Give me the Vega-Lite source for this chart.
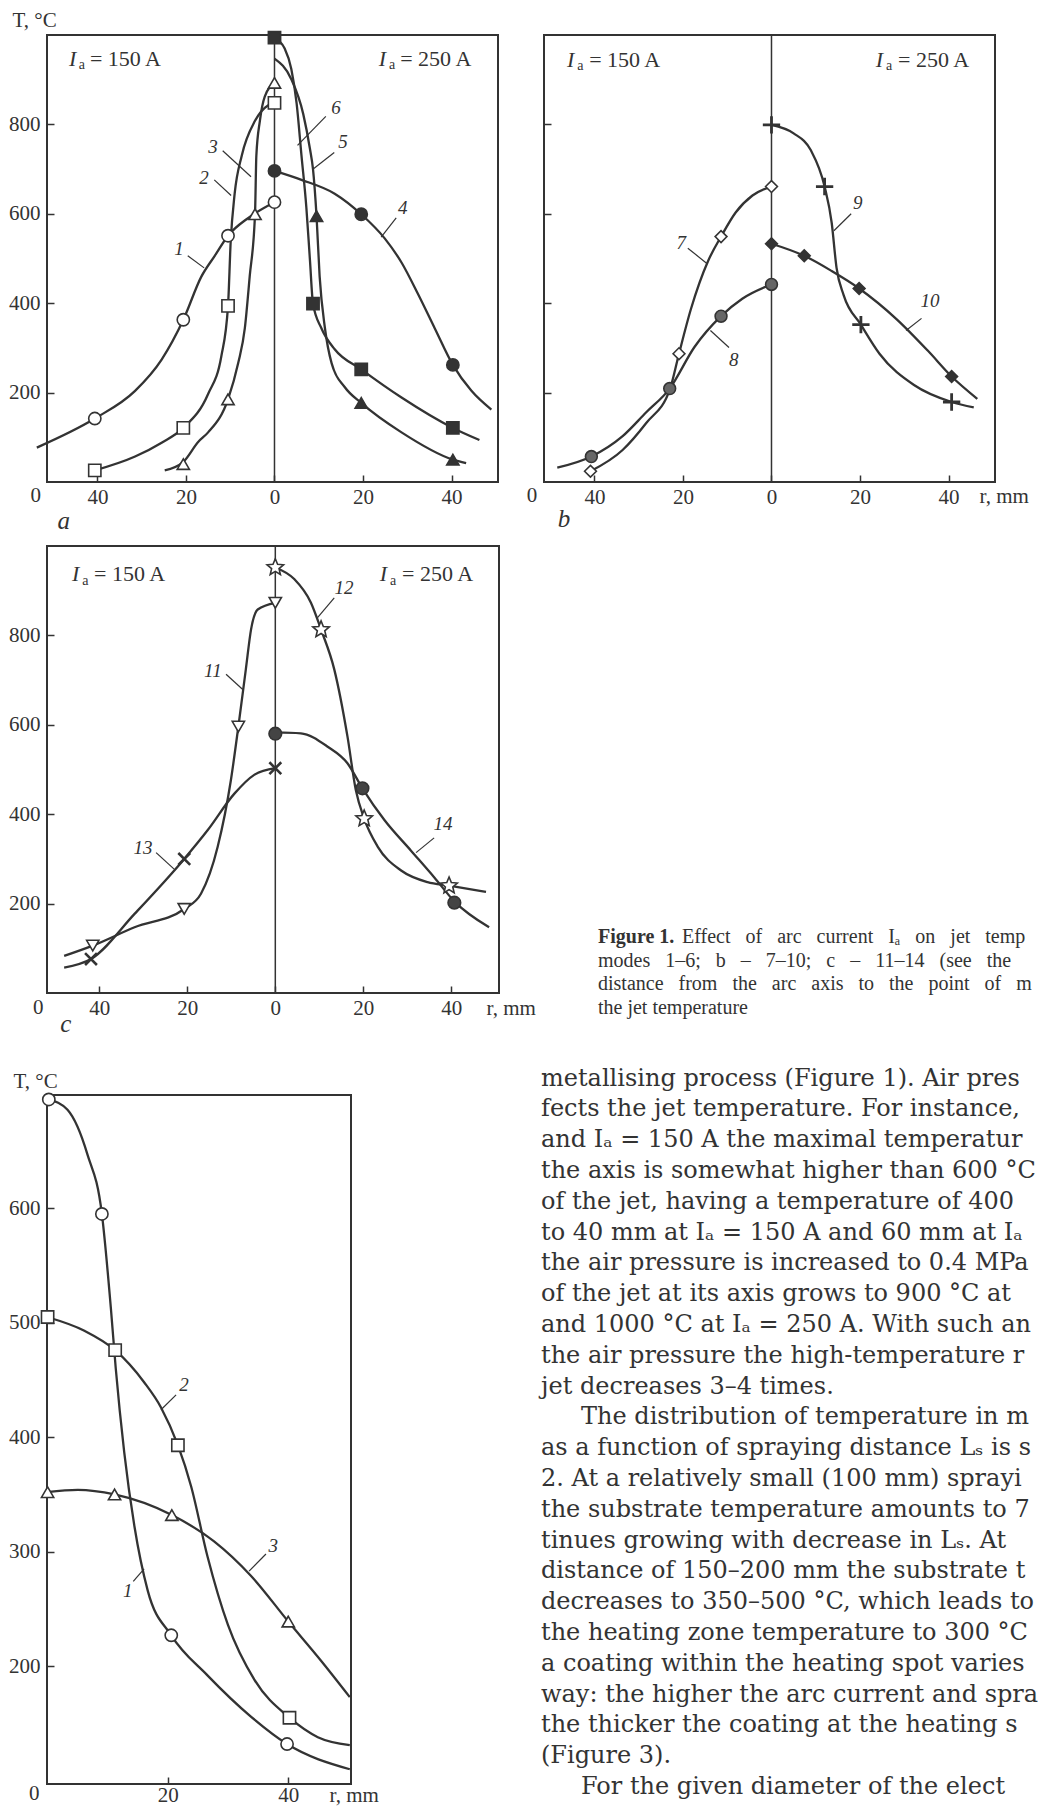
{
"$schema": "https://vega.github.io/schema/vega-lite/v6.json",
"background": "white",
"padding": {"left": 7, "top": 8, "right": 0, "bottom": 0},
"config": {
 "view": {"stroke": "#333", "strokeWidth": 2},
 "axis": {"domain": false, "grid": false, "tickSize": -7, "tickWidth": 1.5, "tickColor": "#333", "labelFont": "Liberation Serif", "labelFontSize": 21, "labelColor": "#333", "labelPadding": 14, "labelFlush": false, "labelOverlap": false, "titleFont": "Liberation Serif", "titleFontSize": 21, "titleFontWeight": "normal", "titleColor": "#333", "titleAngle": 0, "titleAlign": "left", "titleBaseline": "middle"},
 "axisX": {"labelPadding": 11.5}
},
"resolve": {"scale": {"shape": "independent", "fill": "independent"}},
"datasets": {
 "cv": [
  {"p":"a","s":"1","r":-53.7,"t":77},{"p":"a","s":"1","r":-40.6,"t":142},{"p":"a","s":"1","r":-31.5,"t":204},{"p":"a","s":"1","r":-25.5,"t":274},{"p":"a","s":"1","r":-20.6,"t":363},{"p":"a","s":"1","r":-16.5,"t":460},{"p":"a","s":"1","r":-13.5,"t":506},{"p":"a","s":"1","r":-10.5,"t":551},{"p":"a","s":"1","r":-5.9,"t":591},{"p":"a","s":"1","r":0,"t":626},
  {"p":"a","s":"2","r":-40.6,"t":26},{"p":"a","s":"2","r":-31.5,"t":57},{"p":"a","s":"2","r":-25.5,"t":88},{"p":"a","s":"2","r":-20.6,"t":121},{"p":"a","s":"2","r":-15,"t":197},{"p":"a","s":"2","r":-12,"t":282},{"p":"a","s":"2","r":-10.5,"t":394},{"p":"a","s":"2","r":-9.9,"t":537},{"p":"a","s":"2","r":-9,"t":645},{"p":"a","s":"2","r":-7.4,"t":730},{"p":"a","s":"2","r":-4.4,"t":808},{"p":"a","s":"2","r":-1.4,"t":843},{"p":"a","s":"2","r":0,"t":848},
  {"p":"a","s":"3","r":-24.8,"t":26},{"p":"a","s":"3","r":-20.6,"t":45},{"p":"a","s":"3","r":-17.2,"t":90},{"p":"a","s":"3","r":-15,"t":111},{"p":"a","s":"3","r":-10.5,"t":185},{"p":"a","s":"3","r":-8.2,"t":266},{"p":"a","s":"3","r":-6.7,"t":344},{"p":"a","s":"3","r":-5.6,"t":460},{"p":"a","s":"3","r":-4.4,"t":599},{"p":"a","s":"3","r":-4.1,"t":730},{"p":"a","s":"3","r":-3.3,"t":808},{"p":"a","s":"3","r":-2.2,"t":862},{"p":"a","s":"3","r":0,"t":893},
  {"p":"a","s":"4","r":0,"t":696},{"p":"a","s":"4","r":6.1,"t":676},{"p":"a","s":"4","r":13.6,"t":645},{"p":"a","s":"4","r":19.6,"t":599},{"p":"a","s":"4","r":24.9,"t":545},{"p":"a","s":"4","r":28.7,"t":491},{"p":"a","s":"4","r":32.4,"t":421},{"p":"a","s":"4","r":36.2,"t":344},{"p":"a","s":"4","r":40.3,"t":262},{"p":"a","s":"4","r":44.5,"t":204},{"p":"a","s":"4","r":49,"t":162},
  {"p":"a","s":"5","r":0,"t":947},{"p":"a","s":"5","r":3.8,"t":901},{"p":"a","s":"5","r":6.5,"t":823},{"p":"a","s":"5","r":8,"t":746},{"p":"a","s":"5","r":8.7,"t":700},{"p":"a","s":"5","r":9.5,"t":595},{"p":"a","s":"5","r":10.2,"t":460},{"p":"a","s":"5","r":11.4,"t":344},{"p":"a","s":"5","r":12.9,"t":266},{"p":"a","s":"5","r":15.9,"t":212},{"p":"a","s":"5","r":19.6,"t":177},{"p":"a","s":"5","r":28.7,"t":111},{"p":"a","s":"5","r":40.3,"t":50},{"p":"a","s":"5","r":43.3,"t":42},
  {"p":"a","s":"6","r":0,"t":994},{"p":"a","s":"6","r":2.3,"t":970},{"p":"a","s":"6","r":3.8,"t":924},{"p":"a","s":"6","r":5,"t":847},{"p":"a","s":"6","r":6.1,"t":730},{"p":"a","s":"6","r":7.2,"t":614},{"p":"a","s":"6","r":8,"t":498},{"p":"a","s":"6","r":8.7,"t":399},{"p":"a","s":"6","r":10.6,"t":344},{"p":"a","s":"6","r":13.6,"t":297},{"p":"a","s":"6","r":19.6,"t":252},{"p":"a","s":"6","r":28.7,"t":189},{"p":"a","s":"6","r":40.3,"t":121},{"p":"a","s":"6","r":46.3,"t":94},
  {"p":"b","s":"7","r":-40.9,"t":24},{"p":"b","s":"7","r":-33.7,"t":71},{"p":"b","s":"7","r":-28.3,"t":132},{"p":"b","s":"7","r":-22.9,"t":209},{"p":"b","s":"7","r":-20.9,"t":287},{"p":"b","s":"7","r":-18.2,"t":387},{"p":"b","s":"7","r":-14.3,"t":495},{"p":"b","s":"7","r":-11.4,"t":549},{"p":"b","s":"7","r":-8.1,"t":603},{"p":"b","s":"7","r":-4.3,"t":641},{"p":"b","s":"7","r":0,"t":661},
  {"p":"b","s":"8","r":-48.4,"t":32},{"p":"b","s":"8","r":-40.7,"t":57},{"p":"b","s":"8","r":-33.7,"t":102},{"p":"b","s":"8","r":-28.3,"t":156},{"p":"b","s":"8","r":-23,"t":209},{"p":"b","s":"8","r":-17.4,"t":302},{"p":"b","s":"8","r":-11.4,"t":371},{"p":"b","s":"8","r":-6.6,"t":410},{"p":"b","s":"8","r":0,"t":442},
  {"p":"b","s":"9","r":0,"t":799},{"p":"b","s":"9","r":5,"t":780},{"p":"b","s":"9","r":8.9,"t":742},{"p":"b","s":"9","r":12,"t":661},{"p":"b","s":"9","r":13.6,"t":580},{"p":"b","s":"9","r":14.7,"t":479},{"p":"b","s":"9","r":16.3,"t":418},{"p":"b","s":"9","r":20.2,"t":352},{"p":"b","s":"9","r":24.4,"t":287},{"p":"b","s":"9","r":32.2,"t":217},{"p":"b","s":"9","r":40.7,"t":179},{"p":"b","s":"9","r":45.7,"t":167},
  {"p":"b","s":"10","r":0,"t":533},{"p":"b","s":"10","r":7.4,"t":506},{"p":"b","s":"10","r":13.6,"t":472},{"p":"b","s":"10","r":19.8,"t":433},{"p":"b","s":"10","r":28.3,"t":364},{"p":"b","s":"10","r":35.3,"t":294},{"p":"b","s":"10","r":40.7,"t":236},{"p":"b","s":"10","r":46.5,"t":186},
  {"p":"c","s":"11","r":-48,"t":83},{"p":"c","s":"11","r":-41.5,"t":106},{"p":"c","s":"11","r":-32,"t":147},{"p":"c","s":"11","r":-20.7,"t":188},{"p":"c","s":"11","r":-16.9,"t":222},{"p":"c","s":"11","r":-13.1,"t":327},{"p":"c","s":"11","r":-10.1,"t":476},{"p":"c","s":"11","r":-8.4,"t":596},{"p":"c","s":"11","r":-6.7,"t":724},{"p":"c","s":"11","r":-5.5,"t":814},{"p":"c","s":"11","r":-4,"t":858},{"p":"c","s":"11","r":0,"t":873},
  {"p":"c","s":"13","r":-48,"t":57},{"p":"c","s":"13","r":-41.9,"t":76},{"p":"c","s":"13","r":-32,"t":177},{"p":"c","s":"13","r":-20.7,"t":300},{"p":"c","s":"13","r":-15.4,"t":364},{"p":"c","s":"13","r":-9.3,"t":446},{"p":"c","s":"13","r":-4.8,"t":488},{"p":"c","s":"13","r":0,"t":503},
  {"p":"c","s":"12","r":0,"t":952},{"p":"c","s":"12","r":4.3,"t":926},{"p":"c","s":"12","r":8.1,"t":873},{"p":"c","s":"12","r":10.4,"t":813},{"p":"c","s":"12","r":13.4,"t":724},{"p":"c","s":"12","r":16.4,"t":574},{"p":"c","s":"12","r":18.3,"t":454},{"p":"c","s":"12","r":20.2,"t":390},{"p":"c","s":"12","r":23.3,"t":327},{"p":"c","s":"12","r":28.6,"t":274},{"p":"c","s":"12","r":34.6,"t":248},{"p":"c","s":"12","r":39.5,"t":240},{"p":"c","s":"12","r":47.9,"t":226},
  {"p":"c","s":"14","r":0,"t":583},{"p":"c","s":"14","r":5.8,"t":581},{"p":"c","s":"14","r":11.9,"t":551},{"p":"c","s":"14","r":16.4,"t":514},{"p":"c","s":"14","r":19.8,"t":458},{"p":"c","s":"14","r":24.8,"t":387},{"p":"c","s":"14","r":30.8,"t":319},{"p":"c","s":"14","r":36.1,"t":259},{"p":"c","s":"14","r":40.7,"t":205},{"p":"c","s":"14","r":48.6,"t":147},
  {"p":"f","s":"1","r":0.3,"t":695},{"p":"f","s":"1","r":3.4,"t":686},{"p":"f","s":"1","r":6.7,"t":647},{"p":"f","s":"1","r":9.1,"t":595},{"p":"f","s":"1","r":10.6,"t":512},{"p":"f","s":"1","r":11.4,"t":460},{"p":"f","s":"1","r":12.8,"t":387},{"p":"f","s":"1","r":14.5,"t":322},{"p":"f","s":"1","r":16.7,"t":266},{"p":"f","s":"1","r":20.6,"t":227},{"p":"f","s":"1","r":26.6,"t":192},{"p":"f","s":"1","r":33.8,"t":156},{"p":"f","s":"1","r":39.8,"t":132},{"p":"f","s":"1","r":50.2,"t":110},
  {"p":"f","s":"2","r":0,"t":505},{"p":"f","s":"2","r":6.2,"t":493},{"p":"f","s":"2","r":11.3,"t":476},{"p":"f","s":"2","r":16.1,"t":448},{"p":"f","s":"2","r":18.9,"t":426},{"p":"f","s":"2","r":21.7,"t":393},{"p":"f","s":"2","r":23.9,"t":357},{"p":"f","s":"2","r":26.6,"t":296},{"p":"f","s":"2","r":30,"t":236},{"p":"f","s":"2","r":34.4,"t":188},{"p":"f","s":"2","r":40.2,"t":155},{"p":"f","s":"2","r":44.9,"t":138},{"p":"f","s":"2","r":50.2,"t":131},
  {"p":"f","s":"3","r":0,"t":352},{"p":"f","s":"3","r":5.1,"t":354},{"p":"f","s":"3","r":11.2,"t":350},{"p":"f","s":"3","r":20.7,"t":332},{"p":"f","s":"3","r":27.7,"t":309},{"p":"f","s":"3","r":33.8,"t":279},{"p":"f","s":"3","r":40,"t":239},{"p":"f","s":"3","r":45.4,"t":205},{"p":"f","s":"3","r":50.2,"t":173}
 ],
 "pt": [
  {"p":"a","s":"1","r":-40.6,"t":142},{"p":"a","s":"1","r":-20.6,"t":363},{"p":"a","s":"1","r":-10.5,"t":551},{"p":"a","s":"1","r":0,"t":626},
  {"p":"a","s":"2","r":-40.6,"t":26},{"p":"a","s":"2","r":-20.6,"t":121},{"p":"a","s":"2","r":-10.5,"t":394},{"p":"a","s":"2","r":0,"t":848},
  {"p":"a","s":"3","r":-20.6,"t":40},{"p":"a","s":"3","r":-10.5,"t":185},{"p":"a","s":"3","r":-4.4,"t":599},{"p":"a","s":"3","r":0,"t":893},
  {"p":"a","s":"4","r":0,"t":696},{"p":"a","s":"4","r":19.6,"t":599},{"p":"a","s":"4","r":40.3,"t":262},
  {"p":"a","s":"5","r":9.5,"t":595},{"p":"a","s":"5","r":19.6,"t":177},{"p":"a","s":"5","r":40.3,"t":50},
  {"p":"a","s":"6","r":0,"t":994},{"p":"a","s":"6","r":8.7,"t":399},{"p":"a","s":"6","r":19.6,"t":252},{"p":"a","s":"6","r":40.3,"t":121},
  {"p":"b","s":"7","r":-40.9,"t":24},{"p":"b","s":"7","r":-20.9,"t":287},{"p":"b","s":"7","r":-11.4,"t":549},{"p":"b","s":"7","r":0,"t":661},
  {"p":"b","s":"8","r":-40.7,"t":57},{"p":"b","s":"8","r":-23,"t":209},{"p":"b","s":"8","r":-11.4,"t":371},{"p":"b","s":"8","r":0,"t":442},
  {"p":"b","s":"9","r":0,"t":799},{"p":"b","s":"9","r":12,"t":661},{"p":"b","s":"9","r":20.2,"t":352},{"p":"b","s":"9","r":40.7,"t":179},
  {"p":"b","s":"10","r":0,"t":533},{"p":"b","s":"10","r":7.4,"t":506},{"p":"b","s":"10","r":19.8,"t":433},{"p":"b","s":"10","r":40.7,"t":236},
  {"p":"c","s":"11","r":-41.5,"t":106},{"p":"c","s":"11","r":-20.7,"t":188},{"p":"c","s":"11","r":-8.4,"t":596},{"p":"c","s":"11","r":0,"t":873},
  {"p":"c","s":"12","r":0,"t":952},{"p":"c","s":"12","r":10.4,"t":813},{"p":"c","s":"12","r":20.2,"t":390},{"p":"c","s":"12","r":39.5,"t":240},
  {"p":"c","s":"13","r":-41.9,"t":76},{"p":"c","s":"13","r":-20.7,"t":300},{"p":"c","s":"13","r":0,"t":503},
  {"p":"c","s":"14","r":0,"t":580},{"p":"c","s":"14","r":19.8,"t":458},{"p":"c","s":"14","r":40.7,"t":202},
  {"p":"f","s":"1","r":0.3,"t":695},{"p":"f","s":"1","r":9.1,"t":595},{"p":"f","s":"1","r":20.6,"t":227},{"p":"f","s":"1","r":39.8,"t":132},
  {"p":"f","s":"2","r":0.1,"t":505},{"p":"f","s":"2","r":11.3,"t":476},{"p":"f","s":"2","r":21.7,"t":393},{"p":"f","s":"2","r":40.2,"t":155},
  {"p":"f","s":"3","r":0.1,"t":352},{"p":"f","s":"3","r":11.2,"t":350},{"p":"f","s":"3","r":20.7,"t":332},{"p":"f","s":"3","r":40,"t":239}
 ],
 "ld": [
  {"p":"a","r":-19.6,"t":506,"r2":-15.9,"t2":479},{"p":"a","r":-13.6,"t":676,"r2":-9.8,"t2":641},{"p":"a","r":-11.7,"t":741,"r2":-5.3,"t2":683},{"p":"a","r":27.5,"t":591,"r2":24.1,"t2":548},{"p":"a","r":13.5,"t":737,"r2":8.6,"t2":699},{"p":"a","r":11.6,"t":818,"r2":5.2,"t2":753},
  {"p":"b","r":-18.9,"t":523,"r2":-14.6,"t2":489},{"p":"b","r":-9.6,"t":301,"r2":-13.8,"t2":339},{"p":"b","r":18,"t":600,"r2":14.1,"t2":562},{"p":"b","r":33.9,"t":366,"r2":30.4,"t2":339},
  {"p":"c","r":-11.2,"t":713,"r2":-7.4,"t2":679},{"p":"c","r":13.4,"t":884,"r2":9.6,"t2":840},{"p":"c","r":-27.1,"t":314,"r2":-23,"t2":277},{"p":"c","r":36.1,"t":347,"r2":32,"t2":314},
  {"p":"f","r":14.3,"t":274,"r2":16.1,"t2":285},{"p":"f","r":21.4,"t":437,"r2":18.9,"t2":424},{"p":"f","r":36.3,"t":298,"r2":33.5,"t2":283}
 ],
 "it": [
  {"p":"a","k":"I","text":"I","r":-45.6,"t":947},{"p":"a","k":"I","text":"I","r":24.4,"t":947},
  {"p":"a","k":"num","text":"1","r":-21.6,"t":521},{"p":"a","k":"num","text":"2","r":-15.9,"t":680},{"p":"a","k":"num","text":"3","r":-13.9,"t":749},{"p":"a","k":"num","text":"4","r":29.0,"t":613},{"p":"a","k":"num","text":"5","r":15.5,"t":761},{"p":"a","k":"num","text":"6","r":13.9,"t":837},
  {"p":"a","k":"let","text":"a","r":-47.6,"t":-87},
  {"p":"b","k":"I","text":"I","r":-45.4,"t":944},{"p":"b","k":"I","text":"I","r":24.4,"t":944},
  {"p":"b","k":"num","text":"7","r":-20.4,"t":535},{"p":"b","k":"num","text":"8","r":-8.5,"t":273},{"p":"b","k":"num","text":"9","r":19.5,"t":624},{"p":"b","k":"num","text":"10","r":35.8,"t":405},
  {"p":"b","k":"let","text":"b","r":-46.9,"t":-83},
  {"p":"c","k":"I","text":"I","r":-45.4,"t":937},{"p":"c","k":"I","text":"I","r":24.6,"t":937},
  {"p":"c","k":"num","text":"11","r":-14.2,"t":720},{"p":"c","k":"num","text":"12","r":15.6,"t":906},{"p":"c","k":"num","text":"13","r":-30.1,"t":324},{"p":"c","k":"num","text":"14","r":38.1,"t":378},
  {"p":"c","k":"let","text":"c","r":-47.6,"t":-69},
  {"p":"f","k":"num","text":"1","r":13.4,"t":266},{"p":"f","k":"num","text":"2","r":22.7,"t":446},{"p":"f","k":"num","text":"3","r":37.5,"t":305}
 ],
 "rm": [
  {"p":"a","k":"sub","text":"a","r":-44.2,"t":933},{"p":"a","k":"main","text":"= 150 A","r":-41.7,"t":947},{"p":"a","k":"sub","text":"a","r":25.9,"t":933},{"p":"a","k":"main","text":"= 250 A","r":28.4,"t":947},{"p":"a","k":"zero","text":"0","r":-55.1,"t":-32.4},
  {"p":"b","k":"sub","text":"a","r":-43.9,"t":930},{"p":"b","k":"main","text":"= 150 A","r":-41.2,"t":944},{"p":"b","k":"sub","text":"a","r":25.9,"t":930},{"p":"b","k":"main","text":"= 250 A","r":28.6,"t":944},{"p":"b","k":"zero","text":"0","r":-55.3,"t":-32.4},
  {"p":"c","k":"sub","text":"a","r":-43.9,"t":922},{"p":"c","k":"main","text":"= 150 A","r":-41.2,"t":937},{"p":"c","k":"sub","text":"a","r":26.1,"t":922},{"p":"c","k":"main","text":"= 250 A","r":28.8,"t":937},{"p":"c","k":"zero","text":"0","r":-55.1,"t":-33.6},
  {"p":"f","k":"zero","text":"0","r":-3.0,"t":88}
 ],
 "cap": [
  {"line":0,"i":0,"b":1,"text":"Figure 1."},
  {"line":0,"i":1,"b":0,"text":"Effect\u00a0\u00a0\u00a0of\u00a0\u00a0\u00a0arc\u00a0\u00a0\u00a0current\u00a0\u00a0\u00a0I\u2090\u00a0\u00a0\u00a0on\u00a0\u00a0\u00a0jet\u00a0\u00a0\u00a0temper"},
  {"line":1,"i":0,"b":0,"text":"modes\u00a0\u00a0\u00a01\u20136;\u00a0\u00a0\u00a0b\u00a0\u00a0\u00a0\u2013\u00a0\u00a0\u00a07\u201310;\u00a0\u00a0\u00a0c\u00a0\u00a0\u00a0\u2013\u00a0\u00a0\u00a011\u201314\u00a0\u00a0\u00a0(see\u00a0\u00a0\u00a0the"},
  {"line":2,"i":0,"b":0,"text":"distance\u00a0\u00a0\u00a0from\u00a0\u00a0\u00a0the\u00a0\u00a0\u00a0arc\u00a0\u00a0\u00a0axis\u00a0\u00a0\u00a0to\u00a0\u00a0\u00a0the\u00a0\u00a0\u00a0point\u00a0\u00a0\u00a0of\u00a0\u00a0\u00a0me"},
  {"line":3,"i":0,"b":0,"text":"the jet temperature"}
 ],
 "body": [
  {"line":0,"i":0,"text":"metallising process (Figure 1). Air pressu"},
  {"line":1,"i":0,"text":"fects the jet temperature. For instance, at P"},
  {"line":2,"i":0,"text":"and I\u2090 = 150 A the maximal temperature o"},
  {"line":3,"i":0,"text":"the axis is somewhat higher than 600 °C"},
  {"line":4,"i":0,"text":"of the jet, having a temperature of 400 °C,"},
  {"line":5,"i":0,"text":"to 40 mm at I\u2090 = 150 A and 60 mm at I\u2090 ="},
  {"line":6,"i":0,"text":"the air pressure is increased to 0.4 MPa, t"},
  {"line":7,"i":0,"text":"of the jet at its axis grows to 900 °C at"},
  {"line":8,"i":0,"text":"and 1000 °C at I\u2090 = 250 A. With such an"},
  {"line":9,"i":0,"text":"the air pressure the high-temperature reg"},
  {"line":10,"i":0,"text":"jet decreases 3\u20134 times."},
  {"line":11,"i":1,"text":"The distribution of temperature in meta"},
  {"line":12,"i":0,"text":"as a function of spraying distance L\u209b is show"},
  {"line":13,"i":0,"text":"2. At a relatively small (100 mm) sprayi"},
  {"line":14,"i":0,"text":"the substrate temperature amounts to 700 °"},
  {"line":15,"i":0,"text":"tinues growing with decrease in L\u209b. At"},
  {"line":16,"i":0,"text":"distance of 150\u2013200 mm the substrate t"},
  {"line":17,"i":0,"text":"decreases to 350\u2013500 °C, which leads to"},
  {"line":18,"i":0,"text":"the heating zone temperature to 300 °C. T"},
  {"line":19,"i":0,"text":"a coating within the heating spot varies i"},
  {"line":20,"i":0,"text":"way: the higher the arc current and spra"},
  {"line":21,"i":0,"text":"the thicker the coating at the heating s"},
  {"line":22,"i":0,"text":"(Figure 3)."},
  {"line":23,"i":1,"text":"For the given diameter of the elect"}
 ]
},
"columns": 2,
"spacing": {"row": 64, "column": 45},
"bounds": "flush",
"concat": [
 {
  "width": 451, "height": 447,
  "layer": [
   {"data": {"values": [{}]}, "mark": {"type": "rule", "stroke": "#333", "strokeWidth": 1.5},
    "encoding": {"x": {"datum": 0, "type": "quantitative", "scale": {"domain": [-51.4, 50.5], "nice": false, "zero": false}, "axis": {"values": [-40, -20, 0, 20, 40], "labelExpr": "abs(datum.value)", "title": null}}}},
   {"data": {"name": "cv"}, "transform": [{"filter": "datum.p === 'a'"}],
    "mark": {"type": "line", "interpolate": "monotone", "stroke": "#333", "strokeWidth": 2.3},
    "encoding": {
     "x": {"field": "r", "type": "quantitative", "scale": {"domain": [-51.4, 50.5], "nice": false, "zero": false}, "axis": {"values": [-40, -20, 0, 20, 40], "labelExpr": "abs(datum.value)", "title": null}},
     "y": {"field": "t", "type": "quantitative", "scale": {"domain": [0, 1000], "nice": false, "zero": false}, "axis": {"values": [200, 400, 600, 800], "title": "T, °C", "titleX": -35, "titleY": -15}},
     "detail": {"field": "s", "type": "nominal"}}},
   {"data": {"name": "ld"}, "transform": [{"filter": "datum.p === 'a'"}],
    "mark": {"type": "rule", "stroke": "#333", "strokeWidth": 1.2},
    "encoding": {"x": {"field": "r", "type": "quantitative", "scale": {"domain": [-51.4, 50.5], "nice": false, "zero": false}, "axis": {"values": [-40, -20, 0, 20, 40], "labelExpr": "abs(datum.value)", "title": null}}, "y": {"field": "t", "type": "quantitative", "scale": {"domain": [0, 1000], "nice": false, "zero": false}, "axis": {"values": [200, 400, 600, 800], "title": "T, °C", "titleX": -35, "titleY": -15}}, "x2": {"field": "r2"}, "y2": {"field": "t2"}}},
   {"data": {"name": "pt"}, "transform": [{"filter": "datum.p === 'a'"}],
    "mark": {"type": "point", "filled": true, "opacity": 1, "stroke": "#333", "strokeWidth": 1.6, "size": 150},
    "encoding": {"x": {"field": "r", "type": "quantitative", "scale": {"domain": [-51.4, 50.5], "nice": false, "zero": false}, "axis": {"values": [-40, -20, 0, 20, 40], "labelExpr": "abs(datum.value)", "title": null}}, "y": {"field": "t", "type": "quantitative", "scale": {"domain": [0, 1000], "nice": false, "zero": false}, "axis": {"values": [200, 400, 600, 800], "title": "T, °C", "titleX": -35, "titleY": -15}},
     "shape": {"field": "s", "type": "nominal", "scale": {"domain": ["1","2","3","4","5","6"], "range": ["circle","square","triangle-up","circle","triangle-up","square"]}, "legend": null},
     "fill": {"field": "s", "type": "nominal", "scale": {"domain": ["1","2","3","4","5","6"], "range": ["white","white","white","#333","#333","#333"]}, "legend": null}}},
   {"data": {"name": "it"}, "transform": [{"filter": "datum.p === 'a' && datum.k === 'num'"}],
    "mark": {"type": "text", "font": "Liberation Serif", "fontStyle": "italic", "fontSize": 19, "color": "#333", "align": "center", "baseline": "middle"},
    "encoding": {"x": {"field": "r", "type": "quantitative", "scale": {"domain": [-51.4, 50.5], "nice": false, "zero": false}, "axis": {"values": [-40, -20, 0, 20, 40], "labelExpr": "abs(datum.value)", "title": null}}, "y": {"field": "t", "type": "quantitative", "scale": {"domain": [0, 1000], "nice": false, "zero": false}, "axis": {"values": [200, 400, 600, 800], "title": "T, °C", "titleX": -35, "titleY": -15}}, "text": {"field": "text", "type": "nominal"}}},
   {"data": {"name": "it"}, "transform": [{"filter": "datum.p === 'a' && datum.k === 'I'"}],
    "mark": {"type": "text", "font": "Liberation Serif", "fontStyle": "italic", "fontSize": 22, "color": "#333", "align": "center", "baseline": "middle"},
    "encoding": {"x": {"field": "r", "type": "quantitative", "scale": {"domain": [-51.4, 50.5], "nice": false, "zero": false}, "axis": {"values": [-40, -20, 0, 20, 40], "labelExpr": "abs(datum.value)", "title": null}}, "y": {"field": "t", "type": "quantitative", "scale": {"domain": [0, 1000], "nice": false, "zero": false}, "axis": {"values": [200, 400, 600, 800], "title": "T, °C", "titleX": -35, "titleY": -15}}, "text": {"field": "text", "type": "nominal"}}},
   {"data": {"name": "it"}, "transform": [{"filter": "datum.p === 'a' && datum.k === 'let'"}],
    "mark": {"type": "text", "font": "Liberation Serif", "fontStyle": "italic", "fontSize": 25, "color": "#333", "align": "center", "baseline": "middle"},
    "encoding": {"x": {"field": "r", "type": "quantitative", "scale": {"domain": [-51.4, 50.5], "nice": false, "zero": false}, "axis": {"values": [-40, -20, 0, 20, 40], "labelExpr": "abs(datum.value)", "title": null}}, "y": {"field": "t", "type": "quantitative", "scale": {"domain": [0, 1000], "nice": false, "zero": false}, "axis": {"values": [200, 400, 600, 800], "title": "T, °C", "titleX": -35, "titleY": -15}}, "text": {"field": "text", "type": "nominal"}}},
   {"data": {"name": "rm"}, "transform": [{"filter": "datum.p === 'a' && datum.k === 'main'"}],
    "mark": {"type": "text", "font": "Liberation Serif", "fontSize": 22, "color": "#333", "align": "left", "baseline": "middle"},
    "encoding": {"x": {"field": "r", "type": "quantitative", "scale": {"domain": [-51.4, 50.5], "nice": false, "zero": false}, "axis": {"values": [-40, -20, 0, 20, 40], "labelExpr": "abs(datum.value)", "title": null}}, "y": {"field": "t", "type": "quantitative", "scale": {"domain": [0, 1000], "nice": false, "zero": false}, "axis": {"values": [200, 400, 600, 800], "title": "T, °C", "titleX": -35, "titleY": -15}}, "text": {"field": "text", "type": "nominal"}}},
   {"data": {"name": "rm"}, "transform": [{"filter": "datum.p === 'a' && datum.k === 'sub'"}],
    "mark": {"type": "text", "font": "Liberation Serif", "fontSize": 14, "color": "#333", "align": "left", "baseline": "middle"},
    "encoding": {"x": {"field": "r", "type": "quantitative", "scale": {"domain": [-51.4, 50.5], "nice": false, "zero": false}, "axis": {"values": [-40, -20, 0, 20, 40], "labelExpr": "abs(datum.value)", "title": null}}, "y": {"field": "t", "type": "quantitative", "scale": {"domain": [0, 1000], "nice": false, "zero": false}, "axis": {"values": [200, 400, 600, 800], "title": "T, °C", "titleX": -35, "titleY": -15}}, "text": {"field": "text", "type": "nominal"}}},
   {"data": {"name": "rm"}, "transform": [{"filter": "datum.p === 'a' && datum.k === 'zero'"}],
    "mark": {"type": "text", "font": "Liberation Serif", "fontSize": 21, "color": "#333", "align": "left", "baseline": "middle"},
    "encoding": {"x": {"field": "r", "type": "quantitative", "scale": {"domain": [-51.4, 50.5], "nice": false, "zero": false}, "axis": {"values": [-40, -20, 0, 20, 40], "labelExpr": "abs(datum.value)", "title": null}}, "y": {"field": "t", "type": "quantitative", "scale": {"domain": [0, 1000], "nice": false, "zero": false}, "axis": {"values": [200, 400, 600, 800], "title": "T, °C", "titleX": -35, "titleY": -15}}, "text": {"field": "text", "type": "nominal"}}}
  ]
 },
 {
  "width": 451, "height": 447,
  "layer": [
   {"data": {"values": [{}]}, "mark": {"type": "rule", "stroke": "#333", "strokeWidth": 1.5},
    "encoding": {"x": {"datum": 0, "type": "quantitative", "scale": {"domain": [-51.4, 50.5], "nice": false, "zero": false}, "axis": {"values": [-40, -20, 0, 20, 40], "labelExpr": "abs(datum.value)", "title": "r, mm", "titleX": 435, "titleY": 14}}}},
   {"data": {"name": "cv"}, "transform": [{"filter": "datum.p === 'b'"}],
    "mark": {"type": "line", "interpolate": "monotone", "stroke": "#333", "strokeWidth": 2.3},
    "encoding": {
     "x": {"field": "r", "type": "quantitative", "scale": {"domain": [-51.4, 50.5], "nice": false, "zero": false}, "axis": {"values": [-40, -20, 0, 20, 40], "labelExpr": "abs(datum.value)", "title": "r, mm", "titleX": 435, "titleY": 14}},
     "y": {"field": "t", "type": "quantitative", "scale": {"domain": [0, 1000], "nice": false, "zero": false}, "axis": {"values": [200, 400, 600, 800], "labels": false, "title": null}},
     "detail": {"field": "s", "type": "nominal"}}},
   {"data": {"name": "ld"}, "transform": [{"filter": "datum.p === 'b'"}],
    "mark": {"type": "rule", "stroke": "#333", "strokeWidth": 1.2},
    "encoding": {"x": {"field": "r", "type": "quantitative", "scale": {"domain": [-51.4, 50.5], "nice": false, "zero": false}, "axis": {"values": [-40, -20, 0, 20, 40], "labelExpr": "abs(datum.value)", "title": "r, mm", "titleX": 435, "titleY": 14}}, "y": {"field": "t", "type": "quantitative", "scale": {"domain": [0, 1000], "nice": false, "zero": false}, "axis": {"values": [200, 400, 600, 800], "labels": false, "title": null}}, "x2": {"field": "r2"}, "y2": {"field": "t2"}}},
   {"data": {"name": "pt"}, "transform": [{"filter": "datum.p === 'b' && datum.s !== '9'"}],
    "mark": {"type": "point", "filled": true, "opacity": 1, "stroke": "#333", "strokeWidth": 1.6, "size": 140},
    "encoding": {"x": {"field": "r", "type": "quantitative", "scale": {"domain": [-51.4, 50.5], "nice": false, "zero": false}, "axis": {"values": [-40, -20, 0, 20, 40], "labelExpr": "abs(datum.value)", "title": "r, mm", "titleX": 435, "titleY": 14}}, "y": {"field": "t", "type": "quantitative", "scale": {"domain": [0, 1000], "nice": false, "zero": false}, "axis": {"values": [200, 400, 600, 800], "labels": false, "title": null}},
     "shape": {"field": "s", "type": "nominal", "scale": {"domain": ["7","8","10"], "range": ["diamond","circle","diamond"]}, "legend": null},
     "fill": {"field": "s", "type": "nominal", "scale": {"domain": ["7","8","10"], "range": ["white","#666","#333"]}, "legend": null}}},
   {"data": {"name": "pt"}, "transform": [{"filter": "datum.p === 'b' && datum.s === '9'"}],
    "mark": {"type": "point", "shape": "M-1,0L1,0M0,-1L0,1", "filled": false, "opacity": 1, "stroke": "#333", "strokeWidth": 2.8, "size": 300},
    "encoding": {"x": {"field": "r", "type": "quantitative", "scale": {"domain": [-51.4, 50.5], "nice": false, "zero": false}, "axis": {"values": [-40, -20, 0, 20, 40], "labelExpr": "abs(datum.value)", "title": "r, mm", "titleX": 435, "titleY": 14}}, "y": {"field": "t", "type": "quantitative", "scale": {"domain": [0, 1000], "nice": false, "zero": false}, "axis": {"values": [200, 400, 600, 800], "labels": false, "title": null}}}},
   {"data": {"name": "it"}, "transform": [{"filter": "datum.p === 'b' && datum.k === 'num'"}],
    "mark": {"type": "text", "font": "Liberation Serif", "fontStyle": "italic", "fontSize": 19, "color": "#333", "align": "center", "baseline": "middle"},
    "encoding": {"x": {"field": "r", "type": "quantitative", "scale": {"domain": [-51.4, 50.5], "nice": false, "zero": false}, "axis": {"values": [-40, -20, 0, 20, 40], "labelExpr": "abs(datum.value)", "title": "r, mm", "titleX": 435, "titleY": 14}}, "y": {"field": "t", "type": "quantitative", "scale": {"domain": [0, 1000], "nice": false, "zero": false}, "axis": {"values": [200, 400, 600, 800], "labels": false, "title": null}}, "text": {"field": "text", "type": "nominal"}}},
   {"data": {"name": "it"}, "transform": [{"filter": "datum.p === 'b' && datum.k === 'I'"}],
    "mark": {"type": "text", "font": "Liberation Serif", "fontStyle": "italic", "fontSize": 22, "color": "#333", "align": "center", "baseline": "middle"},
    "encoding": {"x": {"field": "r", "type": "quantitative", "scale": {"domain": [-51.4, 50.5], "nice": false, "zero": false}, "axis": {"values": [-40, -20, 0, 20, 40], "labelExpr": "abs(datum.value)", "title": "r, mm", "titleX": 435, "titleY": 14}}, "y": {"field": "t", "type": "quantitative", "scale": {"domain": [0, 1000], "nice": false, "zero": false}, "axis": {"values": [200, 400, 600, 800], "labels": false, "title": null}}, "text": {"field": "text", "type": "nominal"}}},
   {"data": {"name": "it"}, "transform": [{"filter": "datum.p === 'b' && datum.k === 'let'"}],
    "mark": {"type": "text", "font": "Liberation Serif", "fontStyle": "italic", "fontSize": 25, "color": "#333", "align": "center", "baseline": "middle"},
    "encoding": {"x": {"field": "r", "type": "quantitative", "scale": {"domain": [-51.4, 50.5], "nice": false, "zero": false}, "axis": {"values": [-40, -20, 0, 20, 40], "labelExpr": "abs(datum.value)", "title": "r, mm", "titleX": 435, "titleY": 14}}, "y": {"field": "t", "type": "quantitative", "scale": {"domain": [0, 1000], "nice": false, "zero": false}, "axis": {"values": [200, 400, 600, 800], "labels": false, "title": null}}, "text": {"field": "text", "type": "nominal"}}},
   {"data": {"name": "rm"}, "transform": [{"filter": "datum.p === 'b' && datum.k === 'main'"}],
    "mark": {"type": "text", "font": "Liberation Serif", "fontSize": 22, "color": "#333", "align": "left", "baseline": "middle"},
    "encoding": {"x": {"field": "r", "type": "quantitative", "scale": {"domain": [-51.4, 50.5], "nice": false, "zero": false}, "axis": {"values": [-40, -20, 0, 20, 40], "labelExpr": "abs(datum.value)", "title": "r, mm", "titleX": 435, "titleY": 14}}, "y": {"field": "t", "type": "quantitative", "scale": {"domain": [0, 1000], "nice": false, "zero": false}, "axis": {"values": [200, 400, 600, 800], "labels": false, "title": null}}, "text": {"field": "text", "type": "nominal"}}},
   {"data": {"name": "rm"}, "transform": [{"filter": "datum.p === 'b' && datum.k === 'sub'"}],
    "mark": {"type": "text", "font": "Liberation Serif", "fontSize": 14, "color": "#333", "align": "left", "baseline": "middle"},
    "encoding": {"x": {"field": "r", "type": "quantitative", "scale": {"domain": [-51.4, 50.5], "nice": false, "zero": false}, "axis": {"values": [-40, -20, 0, 20, 40], "labelExpr": "abs(datum.value)", "title": "r, mm", "titleX": 435, "titleY": 14}}, "y": {"field": "t", "type": "quantitative", "scale": {"domain": [0, 1000], "nice": false, "zero": false}, "axis": {"values": [200, 400, 600, 800], "labels": false, "title": null}}, "text": {"field": "text", "type": "nominal"}}},
   {"data": {"name": "rm"}, "transform": [{"filter": "datum.p === 'b' && datum.k === 'zero'"}],
    "mark": {"type": "text", "font": "Liberation Serif", "fontSize": 21, "color": "#333", "align": "left", "baseline": "middle"},
    "encoding": {"x": {"field": "r", "type": "quantitative", "scale": {"domain": [-51.4, 50.5], "nice": false, "zero": false}, "axis": {"values": [-40, -20, 0, 20, 40], "labelExpr": "abs(datum.value)", "title": "r, mm", "titleX": 435, "titleY": 14}}, "y": {"field": "t", "type": "quantitative", "scale": {"domain": [0, 1000], "nice": false, "zero": false}, "axis": {"values": [200, 400, 600, 800], "labels": false, "title": null}}, "text": {"field": "text", "type": "nominal"}}}
  ]
 },
 {
  "width": 452, "height": 447,
  "layer": [
   {"data": {"values": [{}]}, "mark": {"type": "rule", "stroke": "#333", "strokeWidth": 1.5},
    "encoding": {"x": {"datum": 0, "type": "quantitative", "scale": {"domain": [-51.9, 50.85], "nice": false, "zero": false}, "axis": {"values": [-40, -20, 0, 20, 40], "labelExpr": "abs(datum.value)", "title": "r, mm", "titleX": 439, "titleY": 15}}}},
   {"data": {"name": "cv"}, "transform": [{"filter": "datum.p === 'c'"}],
    "mark": {"type": "line", "interpolate": "monotone", "stroke": "#333", "strokeWidth": 2.3},
    "encoding": {
     "x": {"field": "r", "type": "quantitative", "scale": {"domain": [-51.9, 50.85], "nice": false, "zero": false}, "axis": {"values": [-40, -20, 0, 20, 40], "labelExpr": "abs(datum.value)", "title": "r, mm", "titleX": 439, "titleY": 15}},
     "y": {"field": "t", "type": "quantitative", "scale": {"domain": [0, 1000], "nice": false, "zero": false}, "axis": {"values": [200, 400, 600, 800], "title": null}},
     "detail": {"field": "s", "type": "nominal"}}},
   {"data": {"name": "ld"}, "transform": [{"filter": "datum.p === 'c'"}],
    "mark": {"type": "rule", "stroke": "#333", "strokeWidth": 1.2},
    "encoding": {"x": {"field": "r", "type": "quantitative", "scale": {"domain": [-51.9, 50.85], "nice": false, "zero": false}, "axis": {"values": [-40, -20, 0, 20, 40], "labelExpr": "abs(datum.value)", "title": "r, mm", "titleX": 439, "titleY": 15}}, "y": {"field": "t", "type": "quantitative", "scale": {"domain": [0, 1000], "nice": false, "zero": false}, "axis": {"values": [200, 400, 600, 800], "title": null}}, "x2": {"field": "r2"}, "y2": {"field": "t2"}}},
   {"data": {"name": "pt"}, "transform": [{"filter": "datum.p === 'c' && datum.s === '11'"}],
    "mark": {"type": "point", "shape": "triangle-down", "filled": true, "fill": "white", "opacity": 1, "stroke": "#333", "strokeWidth": 1.6, "size": 150},
    "encoding": {"x": {"field": "r", "type": "quantitative", "scale": {"domain": [-51.9, 50.85], "nice": false, "zero": false}, "axis": {"values": [-40, -20, 0, 20, 40], "labelExpr": "abs(datum.value)", "title": "r, mm", "titleX": 439, "titleY": 15}}, "y": {"field": "t", "type": "quantitative", "scale": {"domain": [0, 1000], "nice": false, "zero": false}, "axis": {"values": [200, 400, 600, 800], "title": null}}}},
   {"data": {"name": "pt"}, "transform": [{"filter": "datum.p === 'c' && datum.s === '14'"}],
    "mark": {"type": "point", "shape": "circle", "filled": true, "fill": "#444", "opacity": 1, "stroke": "#333", "strokeWidth": 1.6, "size": 160},
    "encoding": {"x": {"field": "r", "type": "quantitative", "scale": {"domain": [-51.9, 50.85], "nice": false, "zero": false}, "axis": {"values": [-40, -20, 0, 20, 40], "labelExpr": "abs(datum.value)", "title": "r, mm", "titleX": 439, "titleY": 15}}, "y": {"field": "t", "type": "quantitative", "scale": {"domain": [0, 1000], "nice": false, "zero": false}, "axis": {"values": [200, 400, 600, 800], "title": null}}}},
   {"data": {"name": "pt"}, "transform": [{"filter": "datum.p === 'c' && datum.s === '12'"}],
    "mark": {"type": "point", "shape": "M0,-1L0.265,-0.364L0.951,-0.309L0.428,0.139L0.588,0.809L0,0.45L-0.588,0.809L-0.428,0.139L-0.951,-0.309L-0.265,-0.364Z", "filled": true, "fill": "white", "opacity": 1, "stroke": "#333", "strokeWidth": 1.6, "size": 300},
    "encoding": {"x": {"field": "r", "type": "quantitative", "scale": {"domain": [-51.9, 50.85], "nice": false, "zero": false}, "axis": {"values": [-40, -20, 0, 20, 40], "labelExpr": "abs(datum.value)", "title": "r, mm", "titleX": 439, "titleY": 15}}, "y": {"field": "t", "type": "quantitative", "scale": {"domain": [0, 1000], "nice": false, "zero": false}, "axis": {"values": [200, 400, 600, 800], "title": null}}}},
   {"data": {"name": "pt"}, "transform": [{"filter": "datum.p === 'c' && datum.s === '13'"}],
    "mark": {"type": "point", "shape": "M-0.8,-0.8L0.8,0.8M-0.8,0.8L0.8,-0.8", "filled": false, "opacity": 1, "stroke": "#333", "strokeWidth": 2.6, "size": 220},
    "encoding": {"x": {"field": "r", "type": "quantitative", "scale": {"domain": [-51.9, 50.85], "nice": false, "zero": false}, "axis": {"values": [-40, -20, 0, 20, 40], "labelExpr": "abs(datum.value)", "title": "r, mm", "titleX": 439, "titleY": 15}}, "y": {"field": "t", "type": "quantitative", "scale": {"domain": [0, 1000], "nice": false, "zero": false}, "axis": {"values": [200, 400, 600, 800], "title": null}}}},
   {"data": {"name": "it"}, "transform": [{"filter": "datum.p === 'c' && datum.k === 'num'"}],
    "mark": {"type": "text", "font": "Liberation Serif", "fontStyle": "italic", "fontSize": 19, "color": "#333", "align": "center", "baseline": "middle"},
    "encoding": {"x": {"field": "r", "type": "quantitative", "scale": {"domain": [-51.9, 50.85], "nice": false, "zero": false}, "axis": {"values": [-40, -20, 0, 20, 40], "labelExpr": "abs(datum.value)", "title": "r, mm", "titleX": 439, "titleY": 15}}, "y": {"field": "t", "type": "quantitative", "scale": {"domain": [0, 1000], "nice": false, "zero": false}, "axis": {"values": [200, 400, 600, 800], "title": null}}, "text": {"field": "text", "type": "nominal"}}},
   {"data": {"name": "it"}, "transform": [{"filter": "datum.p === 'c' && datum.k === 'I'"}],
    "mark": {"type": "text", "font": "Liberation Serif", "fontStyle": "italic", "fontSize": 22, "color": "#333", "align": "center", "baseline": "middle"},
    "encoding": {"x": {"field": "r", "type": "quantitative", "scale": {"domain": [-51.9, 50.85], "nice": false, "zero": false}, "axis": {"values": [-40, -20, 0, 20, 40], "labelExpr": "abs(datum.value)", "title": "r, mm", "titleX": 439, "titleY": 15}}, "y": {"field": "t", "type": "quantitative", "scale": {"domain": [0, 1000], "nice": false, "zero": false}, "axis": {"values": [200, 400, 600, 800], "title": null}}, "text": {"field": "text", "type": "nominal"}}},
   {"data": {"name": "it"}, "transform": [{"filter": "datum.p === 'c' && datum.k === 'let'"}],
    "mark": {"type": "text", "font": "Liberation Serif", "fontStyle": "italic", "fontSize": 25, "color": "#333", "align": "center", "baseline": "middle"},
    "encoding": {"x": {"field": "r", "type": "quantitative", "scale": {"domain": [-51.9, 50.85], "nice": false, "zero": false}, "axis": {"values": [-40, -20, 0, 20, 40], "labelExpr": "abs(datum.value)", "title": "r, mm", "titleX": 439, "titleY": 15}}, "y": {"field": "t", "type": "quantitative", "scale": {"domain": [0, 1000], "nice": false, "zero": false}, "axis": {"values": [200, 400, 600, 800], "title": null}}, "text": {"field": "text", "type": "nominal"}}},
   {"data": {"name": "rm"}, "transform": [{"filter": "datum.p === 'c' && datum.k === 'main'"}],
    "mark": {"type": "text", "font": "Liberation Serif", "fontSize": 22, "color": "#333", "align": "left", "baseline": "middle"},
    "encoding": {"x": {"field": "r", "type": "quantitative", "scale": {"domain": [-51.9, 50.85], "nice": false, "zero": false}, "axis": {"values": [-40, -20, 0, 20, 40], "labelExpr": "abs(datum.value)", "title": "r, mm", "titleX": 439, "titleY": 15}}, "y": {"field": "t", "type": "quantitative", "scale": {"domain": [0, 1000], "nice": false, "zero": false}, "axis": {"values": [200, 400, 600, 800], "title": null}}, "text": {"field": "text", "type": "nominal"}}},
   {"data": {"name": "rm"}, "transform": [{"filter": "datum.p === 'c' && datum.k === 'sub'"}],
    "mark": {"type": "text", "font": "Liberation Serif", "fontSize": 14, "color": "#333", "align": "left", "baseline": "middle"},
    "encoding": {"x": {"field": "r", "type": "quantitative", "scale": {"domain": [-51.9, 50.85], "nice": false, "zero": false}, "axis": {"values": [-40, -20, 0, 20, 40], "labelExpr": "abs(datum.value)", "title": "r, mm", "titleX": 439, "titleY": 15}}, "y": {"field": "t", "type": "quantitative", "scale": {"domain": [0, 1000], "nice": false, "zero": false}, "axis": {"values": [200, 400, 600, 800], "title": null}}, "text": {"field": "text", "type": "nominal"}}},
   {"data": {"name": "rm"}, "transform": [{"filter": "datum.p === 'c' && datum.k === 'zero'"}],
    "mark": {"type": "text", "font": "Liberation Serif", "fontSize": 21, "color": "#333", "align": "left", "baseline": "middle"},
    "encoding": {"x": {"field": "r", "type": "quantitative", "scale": {"domain": [-51.9, 50.85], "nice": false, "zero": false}, "axis": {"values": [-40, -20, 0, 20, 40], "labelExpr": "abs(datum.value)", "title": "r, mm", "titleX": 439, "titleY": 15}}, "y": {"field": "t", "type": "quantitative", "scale": {"domain": [0, 1000], "nice": false, "zero": false}, "axis": {"values": [200, 400, 600, 800], "title": null}}, "text": {"field": "text", "type": "nominal"}}}
  ]
 },
 {
  "width": 451, "height": 485, "view": {"stroke": null},
  "data": {"name": "cap"},
  "layer": [
   {"transform": [{"filter": "datum.b === 1"}],
    "mark": {"type": "text", "font": "Liberation Serif", "fontWeight": "bold", "fontSize": 20, "color": "#333", "align": "left", "baseline": "alphabetic"},
    "encoding": {"x": {"field": "i", "type": "quantitative", "scale": {"domain": [0, 1], "range": [54, 138]}, "axis": null}, "y": {"field": "line", "type": "quantitative", "scale": {"domain": [0, 3], "range": [397, 468]}, "axis": null}, "text": {"field": "text", "type": "nominal"}}},
   {"transform": [{"filter": "datum.b === 0 && datum.line === 0"}],
    "mark": {"type": "text", "font": "Liberation Serif", "fontSize": 20, "color": "#333", "align": "left", "baseline": "alphabetic", "limit": 357, "ellipsis": " "},
    "encoding": {"x": {"field": "i", "type": "quantitative", "scale": {"domain": [0, 1], "range": [54, 138]}, "axis": null}, "y": {"field": "line", "type": "quantitative", "scale": {"domain": [0, 3], "range": [397, 468]}, "axis": null}, "text": {"field": "text", "type": "nominal"}}},
   {"transform": [{"filter": "datum.line > 0"}],
    "mark": {"type": "text", "font": "Liberation Serif", "fontSize": 20, "color": "#333", "align": "left", "baseline": "alphabetic", "limit": 441, "ellipsis": " "},
    "encoding": {"x": {"field": "i", "type": "quantitative", "scale": {"domain": [0, 1], "range": [54, 138]}, "axis": null}, "y": {"field": "line", "type": "quantitative", "scale": {"domain": [0, 3], "range": [397, 468]}, "axis": null}, "text": {"field": "text", "type": "nominal"}}}
  ]
 },
 {
  "width": 304, "height": 689,
  "layer": [
   {"data": {"name": "cv"}, "transform": [{"filter": "datum.p === 'f'"}],
    "mark": {"type": "line", "interpolate": "monotone", "stroke": "#333", "strokeWidth": 2.3},
    "encoding": {
     "x": {"field": "r", "type": "quantitative", "scale": {"domain": [0, 50.4], "nice": false, "zero": false}, "axis": {"values": [20, 40], "labelPadding": 7.5, "title": "r, mm", "titleX": 282, "titleY": 11}},
     "y": {"field": "t", "type": "quantitative", "scale": {"domain": [97.1, 698.9], "nice": false, "zero": false}, "axis": {"values": [200, 300, 400, 500, 600], "title": "T, °C", "titleX": -34, "titleY": -14}},
     "detail": {"field": "s", "type": "nominal"}}},
   {"data": {"name": "ld"}, "transform": [{"filter": "datum.p === 'f'"}],
    "mark": {"type": "rule", "stroke": "#333", "strokeWidth": 1.2},
    "encoding": {"x": {"field": "r", "type": "quantitative", "scale": {"domain": [0, 50.4], "nice": false, "zero": false}, "axis": {"values": [20, 40], "labelPadding": 7.5, "title": "r, mm", "titleX": 282, "titleY": 11}}, "y": {"field": "t", "type": "quantitative", "scale": {"domain": [97.1, 698.9], "nice": false, "zero": false}, "axis": {"values": [200, 300, 400, 500, 600], "title": "T, °C", "titleX": -34, "titleY": -14}}, "x2": {"field": "r2"}, "y2": {"field": "t2"}}},
   {"data": {"name": "pt"}, "transform": [{"filter": "datum.p === 'f'"}],
    "mark": {"type": "point", "filled": true, "fill": "white", "opacity": 1, "stroke": "#333", "strokeWidth": 1.6, "size": 150},
    "encoding": {"x": {"field": "r", "type": "quantitative", "scale": {"domain": [0, 50.4], "nice": false, "zero": false}, "axis": {"values": [20, 40], "labelPadding": 7.5, "title": "r, mm", "titleX": 282, "titleY": 11}}, "y": {"field": "t", "type": "quantitative", "scale": {"domain": [97.1, 698.9], "nice": false, "zero": false}, "axis": {"values": [200, 300, 400, 500, 600], "title": "T, °C", "titleX": -34, "titleY": -14}},
     "shape": {"field": "s", "type": "nominal", "scale": {"domain": ["1","2","3"], "range": ["circle","square","triangle-up"]}, "legend": null}}},
   {"data": {"name": "it"}, "transform": [{"filter": "datum.p === 'f'"}],
    "mark": {"type": "text", "font": "Liberation Serif", "fontStyle": "italic", "fontSize": 19, "color": "#333", "align": "center", "baseline": "middle"},
    "encoding": {"x": {"field": "r", "type": "quantitative", "scale": {"domain": [0, 50.4], "nice": false, "zero": false}, "axis": {"values": [20, 40], "labelPadding": 7.5, "title": "r, mm", "titleX": 282, "titleY": 11}}, "y": {"field": "t", "type": "quantitative", "scale": {"domain": [97.1, 698.9], "nice": false, "zero": false}, "axis": {"values": [200, 300, 400, 500, 600], "title": "T, °C", "titleX": -34, "titleY": -14}}, "text": {"field": "text", "type": "nominal"}}},
   {"data": {"name": "rm"}, "transform": [{"filter": "datum.p === 'f'"}],
    "mark": {"type": "text", "font": "Liberation Serif", "fontSize": 21, "color": "#333", "align": "left", "baseline": "middle"},
    "encoding": {"x": {"field": "r", "type": "quantitative", "scale": {"domain": [0, 50.4], "nice": false, "zero": false}, "axis": {"values": [20, 40], "labelPadding": 7.5, "title": "r, mm", "titleX": 282, "titleY": 11}}, "y": {"field": "t", "type": "quantitative", "scale": {"domain": [97.1, 698.9], "nice": false, "zero": false}, "axis": {"values": [200, 300, 400, 500, 600], "title": "T, °C", "titleX": -34, "titleY": -14}}, "text": {"field": "text", "type": "nominal"}}}
  ]
 },
 {
  "width": 451, "height": 689, "view": {"stroke": null},
  "data": {"name": "body"},
  "layer": [
   {"transform": [{"filter": "datum.i === 0"}],
    "mark": {"type": "text", "font": "DejaVu Serif", "fontSize": 24, "color": "#333", "align": "left", "baseline": "alphabetic", "limit": 498, "ellipsis": " "},
    "encoding": {"x": {"field": "i", "type": "quantitative", "scale": {"domain": [0, 1], "range": [-3, 37]}, "axis": null}, "y": {"field": "line", "type": "quantitative", "scale": {"domain": [0, 23], "range": [-9.5, 698.9]}, "axis": null}, "text": {"field": "text", "type": "nominal"}}},
   {"transform": [{"filter": "datum.i === 1"}],
    "mark": {"type": "text", "font": "DejaVu Serif", "fontSize": 24, "color": "#333", "align": "left", "baseline": "alphabetic", "limit": 458, "ellipsis": " "},
    "encoding": {"x": {"field": "i", "type": "quantitative", "scale": {"domain": [0, 1], "range": [-3, 37]}, "axis": null}, "y": {"field": "line", "type": "quantitative", "scale": {"domain": [0, 23], "range": [-9.5, 698.9]}, "axis": null}, "text": {"field": "text", "type": "nominal"}}}
  ]
 }
]
}
